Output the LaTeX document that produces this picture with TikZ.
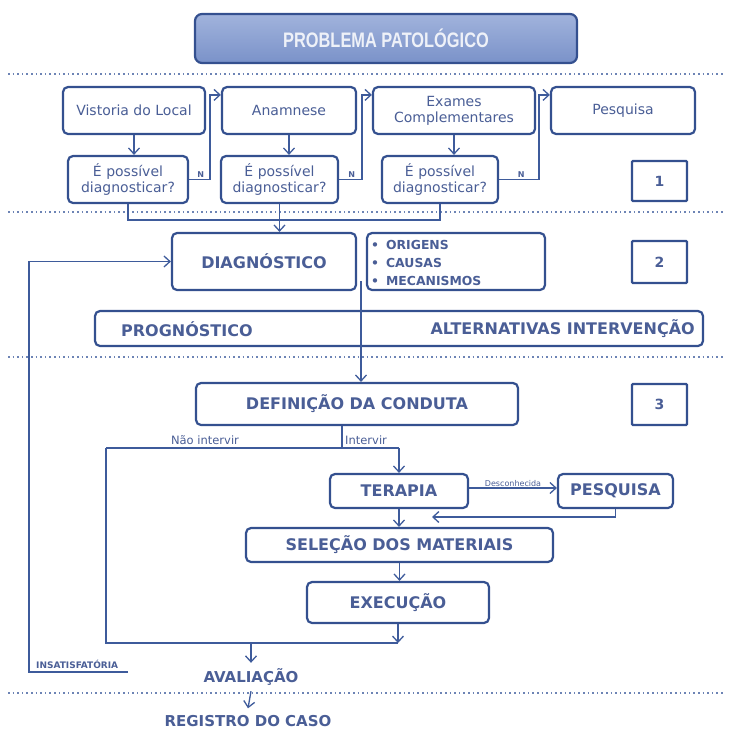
\documentclass[tikz,border=0pt]{standalone}
\usepackage{fontspec}
\setmainfont{DejaVu Sans}
\newfontfamily\medfont{DejaVu Sans}
\newfontfamily\boldfont{DejaVu Sans Bold}
\newfontfamily\titlefont{Liberation Sans Bold}[FakeStretch=0.78]
\usetikzlibrary{arrows.meta}
\definecolor{boxc}{HTML}{34508F}
\definecolor{linec}{HTML}{3E5B9B}
\definecolor{textc}{HTML}{4A5E96}
\definecolor{dotc}{HTML}{6D84B5}
\definecolor{titletop}{HTML}{A1B3DC}
\definecolor{titlebot}{HTML}{7A92C9}
\definecolor{titletext}{HTML}{EEF1F8}
\begin{document}
\begin{tikzpicture}[x=1pt,y=-1pt,
  box/.style={draw=boxc, line width=2.2pt, rounded corners=5pt, fill=white, inner sep=0pt, text=textc, align=center},
  smalltxt/.style={font=\medfont\fontsize{14}{16}\selectfont},
  captxt/.style={font=\boldfont\fontsize{16}{19}\selectfont},
  titlebox/.style={draw=boxc, line width=2.2pt, rounded corners=7pt, top color=titletop, bottom color=titlebot, text=titletext, font=\titlefont\fontsize{21}{24}\selectfont},
  line/.style={draw=linec, line width=1.3pt},
  arr/.style={line, -{Straight Barb[length=6pt,width=11pt,line width=1.3pt]}},
  dotline/.style={draw=dotc, line width=1.6pt, dash pattern=on 1.6pt off 3pt},
  lab/.style={text=textc, inner sep=1pt},
  numbox/.style={box, font=\boldfont\fontsize{14}{17}\selectfont, rounded corners=1pt},
  nlab/.style={text=textc, font=\boldfont\fontsize{8}{9}\selectfont, inner sep=1.5pt},
  bultxt/.style={lab, font=\boldfont\fontsize{12.4}{14}\selectfont, anchor=west},
  plain/.style={text=textc, inner sep=0pt, text height=11pt, text depth=0pt, font=\boldfont\fontsize{15}{18}\selectfont}
]
\useasboundingbox (0,0) rectangle (729,731);

% title
\node[titlebox, minimum width=382pt, minimum height=49pt] (title) at (386,38.5) {PROBLEMA PATOLÓGICO};

% dotted separators
\draw[dotline] (8,74) -- (724,74);
\draw[dotline] (8,212) -- (724,212);
\draw[dotline] (8,357) -- (724,357);
\draw[dotline] (8,693) -- (724,693);

% row 1
\node[box, smalltxt, minimum width=142pt, minimum height=47pt] (vis) at (134,110.5) {Vistoria do Local};
\node[box, smalltxt, minimum width=134pt, minimum height=47pt] (ana) at (289,110.5) {Anamnese};
\node[box, smalltxt, minimum width=162pt, minimum height=47pt] (exa) at (454,110.5) {Exames\\Complementares};
\node[box, smalltxt, minimum width=144pt, minimum height=47pt] (pes) at (623,110.5) {Pesquisa};

% question row
\node[box, smalltxt, minimum width=120pt, minimum height=47pt] (q1) at (128,179.5) {É possível\\diagnosticar?};
\node[box, smalltxt, minimum width=117pt, minimum height=47pt] (q2) at (279.5,179.5) {É possível\\diagnosticar?};
\node[box, smalltxt, minimum width=116pt, minimum height=47pt] (q3) at (440,179.5) {É possível\\diagnosticar?};
\node[numbox, minimum width=55pt, minimum height=40pt] (b1) at (659.5,181) {1};

\draw[arr] (vis.south) -- (vis.south |- q1.north);
\draw[arr] (ana.south) -- (ana.south |- q2.north);
\draw[arr] (exa.south) -- (exa.south |- q3.north);

\draw[arr] (q1.east) -- ++(21,0) node[pos=0.55, above, nlab] {N} |- ([yshift=-9pt]ana.north west);
\draw[arr] (q2.east) -- ++(23,0) node[pos=0.55, above, nlab] {N} |- ([yshift=-9pt]exa.north west);
\draw[arr] (q3.east) -- ++(40,0) node[pos=0.55, above, nlab] {N} |- ([yshift=-9pt]pes.north west);

% section 2
\node[box, captxt, minimum width=184pt, minimum height=57pt] (diag) at (264,261.5) {DIAGNÓSTICO};
\node[box, minimum width=178pt, minimum height=57pt] (bul) at (456,261.5) {};
\node[bultxt] (o1) at (370,245) {•\hspace{7pt}ORIGENS};
\node[bultxt] (o2) at (370,263) {•\hspace{7pt}CAUSAS};
\node[bultxt] (o3) at (370,281) {•\hspace{7pt}MECANISMOS};
\node[numbox, minimum width=55pt, minimum height=42pt] (b2) at (659.5,262) {2};

\coordinate (br) at (280,220);
\draw[line] (q1.south) |- (br) -| (q3.south);
\draw[arr] (q2.south) -- (q2.south |- diag.north);

\node[box, minimum width=608pt, minimum height=35pt] (prog) at (399,328.5) {};
\node[lab, captxt, anchor=west] (progt) at (120,329) {PROGNÓSTICO};
\node[lab, captxt, anchor=east] (altt) at (696,329) {ALTERNATIVAS INTERVENÇÃO};

% section 3
\node[box, captxt, minimum width=322pt, minimum height=42pt] (def) at (357,404) {DEFINIÇÃO DA CONDUTA};
\node[numbox, minimum width=55pt, minimum height=41pt] (b3) at (659.5,404.5) {3};

\coordinate (dstart) at (361,281);
\draw[arr] (dstart) -- (dstart |- def.north);

\node[box, captxt, minimum width=138pt, minimum height=34pt] (ter) at (399,491) {TERAPIA};
\node[box, captxt, minimum width=115pt, minimum height=34pt] (pes2) at (615.5,491) {PESQUISA};
\node[box, captxt, minimum width=307pt, minimum height=34pt] (sel) at (399.5,545) {SELEÇÃO DOS MATERIAIS};
\node[box, captxt, minimum width=182pt, minimum height=41pt] (exe) at (398,602.5) {EXECUÇÃO};

\coordinate (jl) at (106,448);
\coordinate (jr) at (ter.north |- jl);
\coordinate (bl) at (106,643);
\draw[line] ([xshift=-15pt]def.south) -- ([xshift=-15pt]def.south |- jl);
\draw[line] (jl) -- (jr);
\node[lab, font=\medfont\fontsize{11.5}{13}\selectfont, anchor=south] (nao) at (205,446) {Não intervir};
\node[lab, font=\medfont\fontsize{11.5}{13}\selectfont, anchor=south west] (int) at (344,446) {Intervir};
\draw[arr] (jr) -- (ter.north);

\draw[arr] ([yshift=3pt]ter.east) -- node[above, lab, font=\medfont\fontsize{8}{9}\selectfont, inner sep=1pt] {Desconhecida} ([yshift=3pt]pes2.west);
\coordinate (rt) at (432,517);
\draw[arr] (pes2.south) |- (rt);
\draw[arr] (ter.south) -- (ter.south |- sel.north);
\draw[arr] (sel.south) -- (sel.south |- exe.north);

\node[plain, inner ysep=8.5pt] (aval) at (251,677) {AVALIAÇÃO};
\node[plain, inner ysep=7pt] (reg) at (248,721) {REGISTRO DO CASO};

\draw[line] (jl) -- (bl) -- (exe.south |- bl);
\draw[arr] (exe.south) -- (exe.south |- bl);
\draw[arr] (bl -| aval.north) -- (aval.north);
\draw[arr] (aval.south) -- (reg.north);

% feedback loop
\coordinate (ins) at (128,672);
\draw[arr] (ins) -- (29,672) |- (diag.west);
\node[text=textc, font=\boldfont\fontsize{9}{10}\selectfont, inner sep=0pt, anchor=south west] (inst) at (36,669) {INSATISFATÓRIA};
\end{tikzpicture}
\end{document}
